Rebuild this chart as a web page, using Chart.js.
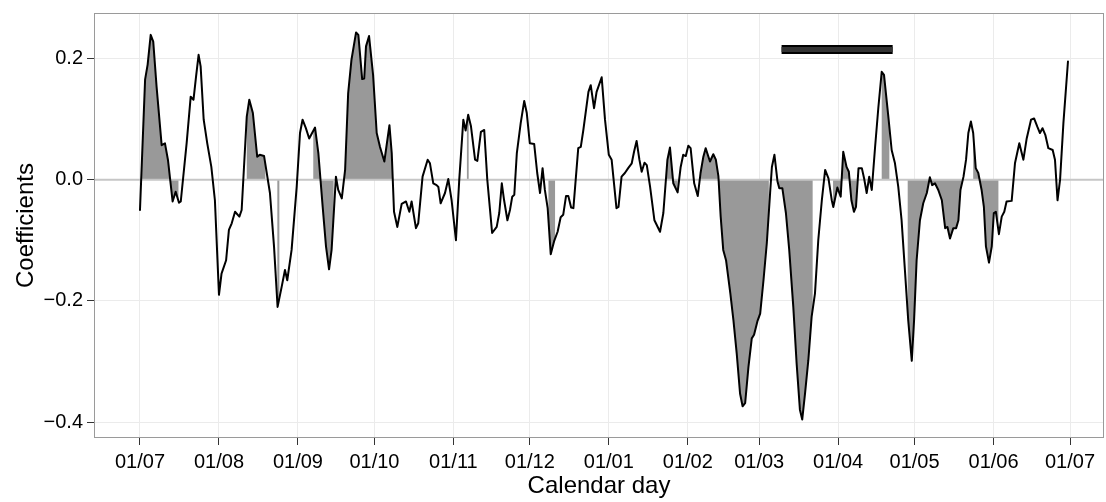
<!DOCTYPE html>
<html>
<head>
<meta charset="utf-8">
<script src="https://cdn.jsdelivr.net/npm/chart.js@4.4.0/dist/chart.umd.min.js"></script>
<style>
  html, body { margin: 0; padding: 0; background: #fff; }
</style>
</head>
<body>
<canvas id="chart" width="1106" height="502"></canvas>
<script>
// day of the season (0 = 1 July) and the coefficient read at that day
const days = [0, 2, 3, 4.2, 5.2, 6.5, 8.5, 9.8, 11, 12.8, 14, 15.3, 16, 18.3, 19.9, 21, 22, 23, 23.8, 25,
    26.4, 28, 29.4, 31, 32, 33.8, 34.9, 36, 37.3, 39, 39.9, 41.9, 42.9, 44.3, 46, 47, 48.7, 51, 52.6, 54,
    55.6, 56.9, 57.8, 59.5, 61.5, 62.8, 63.8, 65.1, 66.4, 68.7, 70, 71.7, 73, 74.2, 75.2, 76.9, 77.8, 79.2, 80.5, 81.7,
    83, 84.8, 85.7, 87.2, 88, 88.7, 89.9, 91.5, 92.9, 94.2, 95.9, 97.9, 98.8, 99.7, 101, 102.7, 104.4, 105.7, 106.6, 108.3,
    109.2, 110.9, 112.9, 113.8, 115.1, 116.4, 117.1, 118, 119.7, 121, 122.3, 124, 125.3, 126.9, 127.8, 128.8, 129.9, 131.5, 132.4, 133.8,
    135.1, 136.3, 138.2, 140, 141, 142, 142.9, 144.2, 145.2, 146.1, 146.9, 147.9, 149.4, 150.8, 151.8, 153, 154.7, 155.9, 157, 158,
    158.9, 160, 161.2, 162.5, 163.9, 165.1, 166.1, 167.2, 168.1, 169.2, 170.1, 172, 173, 174, 176, 176.9, 178.2, 179.2, 181.2, 182.5,
    184, 185.1, 187, 187.8, 189, 190.3, 191.6, 193, 193.9, 194.9, 196, 196.9, 198, 198.9, 200.2, 201.9, 204.1, 205.4, 207, 208,
    209.3, 211, 212.2, 213.2, 214.2, 215.2, 216.1, 217.5, 218.9, 220, 221.1, 222, 223.7, 225, 226, 227, 227.9, 228.9, 230, 231.7,
    232.9, 234.2, 235.5, 236.5, 237.5, 238.8, 240.1, 241, 242.3, 243.4, 244.7, 246, 247.3, 248, 249, 250.2, 250.9, 252.1, 253.5, 254.8,
    256.4, 257.7, 259, 259.9, 261, 262.3, 263.6, 264.9, 266.2, 267.6, 268.9, 270.2, 271.5, 272.1, 273.7, 275, 276, 277.3, 278.2, 279.2,
    280.2, 281, 282, 283.3, 284.2, 285.2, 286.2, 287.2, 288.5, 289.8, 291.1, 292, 293.7, 295, 296.3, 297.6, 298.9, 300.2, 301.5, 302.9,
    303.8, 304.8, 306.1, 307.4, 308.8, 310, 310.9, 312, 313.3, 314.7, 316, 316.9, 317.9, 319.2, 320.3, 321.2, 322, 323.2, 324.2, 325.1,
    326.1, 327, 328, 329, 330.3, 331.2, 332, 333.2, 334.3, 335.1, 335.9, 337.1, 338.2, 339.2, 340.1, 342.1, 343.4, 345.1, 346.7, 348,
    349.7, 350.9, 352.2, 353.2, 354.2, 355.3, 356.5, 358.2, 359.1, 360.1, 361.1, 362.4, 364.2];
const coef = [-0.05, 0.165, 0.19, 0.239, 0.228, 0.154, 0.057, 0.06, 0.032, -0.036, -0.02, -0.038, -0.036, 0.06, 0.137, 0.132, 0.17, 0.206, 0.187, 0.099,
    0.06, 0.021, -0.034, -0.19, -0.155, -0.133, -0.083, -0.072, -0.053, -0.061, -0.05, 0.104, 0.132, 0.11, 0.038, 0.041, 0.039, -0.022, -0.11, -0.21,
    -0.177, -0.149, -0.166, -0.116, -0.012, 0.077, 0.099, 0.085, 0.068, 0.086, 0.044, -0.045, -0.11, -0.148, -0.116, 0.005, -0.017, -0.031, 0.016, 0.143,
    0.198, 0.243, 0.239, 0.166, 0.167, 0.22, 0.237, 0.172, 0.077, 0.054, 0.03, 0.09, 0.044, -0.053, -0.078, -0.04, -0.036, -0.053, -0.036, -0.08,
    -0.072, 0.005, 0.033, 0.027, -0.006, -0.009, -0.012, -0.039, -0.022, 0.001, -0.034, -0.1, 0, 0.099, 0.081, 0.107, 0.088, 0.033, 0.031, 0.079,
    0.082, 0, -0.088, -0.078, -0.055, -0.006, -0.034, -0.067, -0.05, -0.028, -0.025, 0.044, 0.093, 0.13, 0.11, 0.06, 0.059, 0.011, -0.022, 0.019,
    -0.017, -0.047, -0.123, -0.102, -0.086, -0.062, -0.058, -0.027, -0.027, -0.046, -0.047, 0.052, 0.054, 0.082, 0.145, 0.156, 0.118, 0.145, 0.169, 0.099,
    0.041, 0.033, -0.047, -0.045, 0.005, 0.011, 0.019, 0.027, 0.046, 0.064, 0.033, 0.013, 0.028, 0.024, -0.012, -0.067, -0.086, -0.055, 0.033, 0.053,
    -0.006, -0.021, 0.021, 0.041, 0.039, 0.056, 0.052, -0.006, -0.027, 0.011, 0.038, 0.052, 0.03, 0.042, 0.033, 0.006, -0.061, -0.116, -0.133, -0.188,
    -0.232, -0.287, -0.353, -0.374, -0.369, -0.309, -0.262, -0.256, -0.234, -0.221, -0.166, -0.105, -0.022, 0.021, 0.041, -0.003, -0.014, -0.014, -0.055, -0.116,
    -0.21, -0.303, -0.38, -0.396, -0.353, -0.298, -0.226, -0.188, -0.1, -0.034, 0.016, 0.002, -0.034, -0.045, -0.013, -0.028, 0.046, 0.021, 0.013, -0.034,
    -0.053, -0.045, 0.019, 0.019, 0.002, -0.022, 0.005, -0.017, 0.054, 0.12, 0.178, 0.173, 0.104, 0.049, 0.027, -0.012, -0.067, -0.149, -0.232, -0.299,
    -0.232, -0.133, -0.067, -0.039, -0.022, 0.004, -0.009, -0.006, -0.017, -0.034, -0.08, -0.078, -0.097, -0.08, -0.08, -0.067, -0.017, 0.005, 0.033, 0.077,
    0.096, 0.077, 0.019, 0.011, -0.017, -0.045, -0.11, -0.137, -0.11, -0.055, -0.053, -0.09, -0.061, -0.053, -0.036, -0.035, 0.027, 0.06, 0.033, 0.068,
    0.099, 0.101, 0.087, 0.077, 0.085, 0.074, 0.052, 0.049, 0.033, -0.034, 0, 0.093, 0.195];

// significant days (shaded grey), as start/end day of each run
const shadeStart = [0.6, 41.9, 53.9, 68.0, 80.3, 128.3, 160.3, 206.8, 219.8, 250.0, 272.0, 291.1, 301.3, 327.0];
const shadeEnd = [15.1, 49.2, 54.7, 76.0, 99.3, 129.0, 162.9, 211.0, 246.8, 264.0, 281.3, 294.1, 322.5, 336.9];

// black period bar at the top
const periodDays = [251.8, 295.4];
const periodLevel = 0.215;

const monthDays = [0, 31, 62, 92, 123, 153, 184, 215, 243, 274, 304, 335, 365];
const monthLabels = ['01/07', '01/08', '01/09', '01/10', '01/11', '01/12', '01/01', '01/02', '01/03', '01/04', '01/05', '01/06', '01/07'];
const yTicks = [-0.4, -0.2, 0, 0.2];
const yTickLabels = ['\u22120.4', '\u22120.2', '0.0', '0.2'];

const FONT = "'Liberation Sans', Arial, Helvetica, sans-serif";

const panelPlugin = {
    id: 'panel',
    beforeDatasetsDraw(chart) {
        const { ctx, chartArea: a, scales: { x, y } } = chart;
        const y0 = y.getPixelForValue(0);
        ctx.save();
        ctx.fillStyle = '#999999';
        shadeStart.forEach((s, i) => {
            const x1 = x.getPixelForValue(s), x2 = x.getPixelForValue(shadeEnd[i]);
            ctx.save();
            ctx.beginPath();
            ctx.rect(x1, a.top, x2 - x1, a.bottom - a.top);
            ctx.clip();
            ctx.beginPath();
            ctx.moveTo(x.getPixelForValue(days[0]), y0);
            days.forEach((d, j) => ctx.lineTo(x.getPixelForValue(d), y.getPixelForValue(coef[j])));
            ctx.lineTo(x.getPixelForValue(days[days.length - 1]), y0);
            ctx.closePath();
            ctx.fill();
            ctx.restore();
        });
        // zero reference line
        ctx.strokeStyle = '#c6c6c6';
        ctx.lineWidth = 2;
        ctx.beginPath();
        ctx.moveTo(a.left, y0);
        ctx.lineTo(a.right, y0);
        ctx.stroke();
        ctx.restore();
    },
    afterDraw(chart) {
        const { ctx, chartArea: a } = chart;
        ctx.save();
        ctx.strokeStyle = '#9a9a9a';
        ctx.lineWidth = 1;
        ctx.strokeRect(a.left + 0.5, a.top + 0.5, a.right - a.left - 1, a.bottom - a.top - 1);
        ctx.restore();
    }
};

const periodData = periodDays.map(d => ({ x: d, y: periodLevel }));

new Chart(document.getElementById('chart'), {
    type: 'line',
    data: {
        datasets: [
            {
                data: days.map((d, i) => ({ x: d, y: coef[i] })),
                borderColor: '#000',
                borderWidth: 2,
                borderJoinStyle: 'round',
                borderCapStyle: 'round',
                pointRadius: 0,
                tension: 0,
                fill: false,
                order: 1
            },
            {
                data: periodData,
                borderColor: '#333',
                borderWidth: 5,
                borderCapStyle: 'butt',
                pointRadius: 0,
                order: 2
            },
            {
                data: periodData,
                borderColor: '#000',
                borderWidth: 9,
                borderCapStyle: 'butt',
                pointRadius: 0,
                order: 3
            }
        ]
    },
    options: {
        responsive: false,
        animation: false,
        devicePixelRatio: 1,
        layout: { padding: { top: 13, right: 2, left: 0, bottom: 0 } },
        plugins: { legend: { display: false }, tooltip: { enabled: false } },
        scales: {
            x: {
                type: 'linear',
                min: -18.05,
                max: 378.34,
                afterBuildTicks: s => { s.ticks = monthDays.map(v => ({ value: v })); },
                afterFit: s => { s.height = 64; },
                ticks: {
                    callback: (v, i) => monthLabels[i],
                    autoSkip: false,
                    maxRotation: 0,
                    color: '#000',
                    padding: 5,
                    font: { family: FONT, size: 20 }
                },
                grid: { color: '#ebebeb', tickColor: '#333', tickLength: 7, lineWidth: 1 },
                border: { display: false },
                title: {
                    display: true,
                    text: 'Calendar day',
                    color: '#000',
                    font: { family: FONT, size: 24 },
                    padding: { top: 0, bottom: 1 }
                }
            },
            y: {
                min: -0.4264,
                max: 0.2751,
                afterBuildTicks: s => { s.ticks = yTicks.map(v => ({ value: v })); },
                afterFit: s => { s.width = 94; s.paddingTop = 0; s.paddingBottom = 0; },
                ticks: {
                    callback: (v, i) => yTickLabels[i],
                    color: '#000',
                    padding: 4,
                    font: { family: FONT, size: 20 }
                },
                grid: { color: '#ebebeb', tickColor: '#333', tickLength: 7, lineWidth: 1 },
                border: { display: false },
                title: {
                    display: true,
                    text: 'Coefficients',
                    color: '#000',
                    font: { family: FONT, size: 24 },
                    padding: { top: 12, bottom: 0 }
                }
            }
        }
    },
    plugins: [panelPlugin]
});
</script>
</body>
</html>
